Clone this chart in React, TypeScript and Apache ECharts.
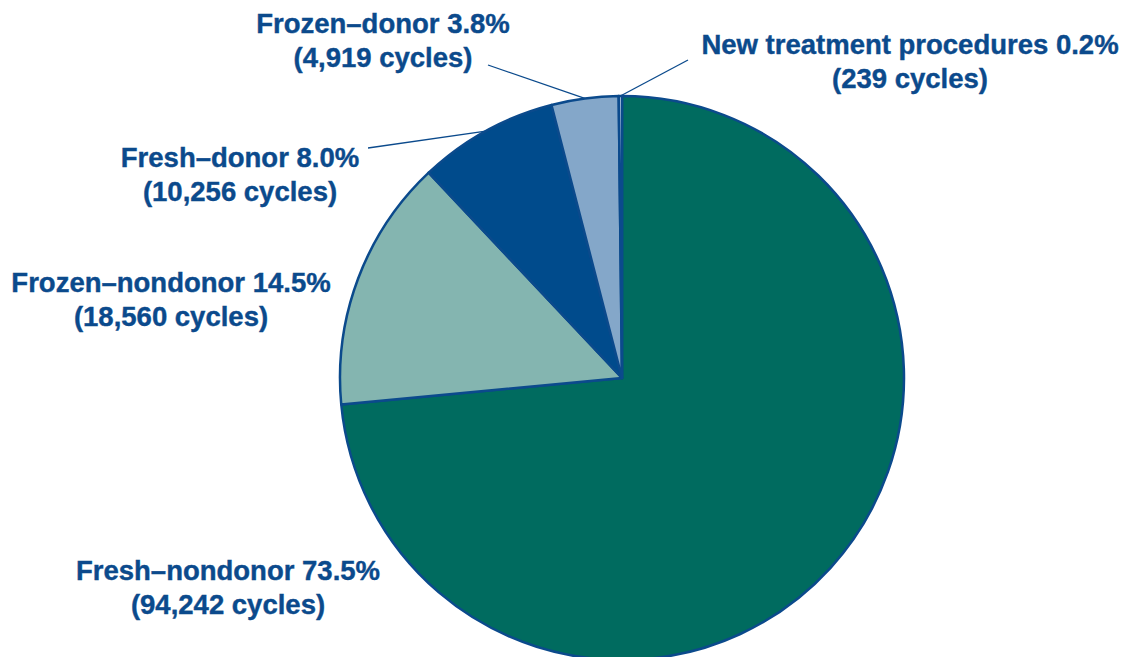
import React, { useEffect, useRef } from "react";
import * as echarts from "echarts";

const categories = [
  "Fresh–nondonor",
  "Frozen–nondonor",
  "Fresh–donor",
  "Frozen–donor",
  "New treatment procedures",
];
const cycles = [94242, 18560, 10256, 4919, 239];
const colors = ["#006B5F", "#84B5B0", "#004B8C", "#84A7C9", "#C4D6EA"];
const showLine = [false, false, true, true, true];

// label centres and guide-line ends (layout only)
const labelPos = [
  [228, 587],
  [171, 299],
  [240, 174],
  [383, 40],
  [910, 61],
];
const lineEnds: (number[] | null)[] = [null, null, [368, 148], [488, 65], [688, 60]];

export default function App() {
  const ref = useRef<HTMLDivElement>(null);
  useEffect(() => {
    document.body.style.margin = "0";
    const chart = echarts.init(ref.current!, null, { renderer: "svg" });
    chart.setOption({
      animation: false,
      backgroundColor: "#ffffff",
      series: [
        {
          type: "pie",
          center: [622, 378],
          radius: 282,
          startAngle: 90,
          clockwise: true,
          avoidLabelOverlap: false,
          itemStyle: { borderColor: "#0B4A8C", borderWidth: 2.5 },
          label: {
            show: true,
            position: "outside",
            color: "#0B4A8C",
            fontFamily: "'Liberation Sans', Arial, Helvetica, sans-serif",
            fontWeight: "bold",
            fontSize: 27.5,
            lineHeight: 34,
            align: "center",
            textBorderColor: "#0B4A8C",
            textBorderWidth: 0.4,
            formatter: (p: any) =>
              `${p.name} ${p.percent.toFixed(1)}%\n(${p.value.toLocaleString("en-US")} cycles)`,
          },
          labelLine: {
            show: true,
            length: 20,
            length2: 0,
            lineStyle: { color: "#0B4A8C", width: 1.3 },
          },
          labelLayout: (params: any) => {
            const i = params.dataIndex;
            const [x, y] = labelPos[i];
            const out: any = { x, y, align: "center", verticalAlign: "middle" };
            const end = lineEnds[i];
            if (end && params.labelLinePoints) {
              out.labelLinePoints = [params.labelLinePoints[0], end, end];
            }
            return out;
          },
          data: categories.map((name, i) => ({
            name,
            value: cycles[i],
            itemStyle: { color: colors[i] },
            labelLine: { show: showLine[i] },
          })),
        },
      ],
    });
    return () => chart.dispose();
  }, []);
  return <div ref={ref} style={{ width: 1128, height: 657 }} />;
}
